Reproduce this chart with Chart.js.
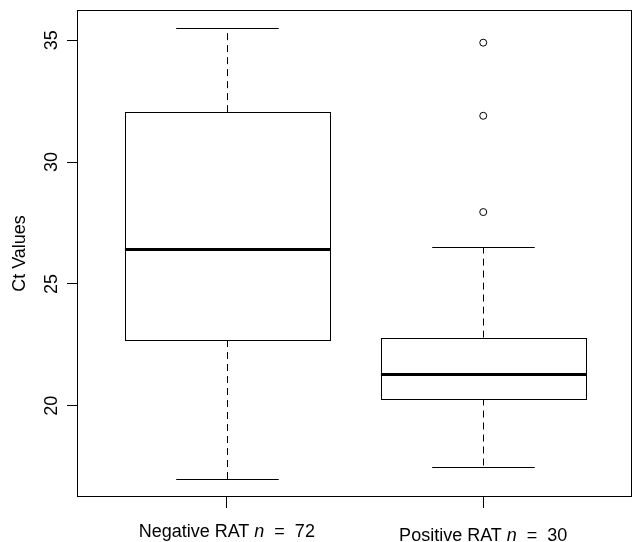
<!DOCTYPE html>
<html>
<head>
<meta charset="utf-8">
<script src="https://cdn.jsdelivr.net/npm/chart.js@4"></script>
<style>
  body { margin: 0; background: #fff; }
  #wrap { width: 632px; height: 542px; }
</style>
</head>
<body>
<div id="wrap"><canvas id="myChart" width="632" height="542"></canvas></div>
<script>
// box plot data
const categories = ['Negative RAT', 'Positive RAT'];
const counts = [72, 30];
const lowerWhisker = [17.0, 17.5];
const q1 = [22.7, 20.3];
const median = [26.45, 21.3];
const q3 = [32.05, 22.8];
const upperWhisker = [35.5, 26.5];
const outliers = [[], [27.95, 31.9, 34.9]];
const yTicks = [20, 25, 30, 35];

const FONT = '"Liberation Sans", Arial, sans-serif';

// outlier points for the scatter dataset
const outlierPoints = [];
outliers.forEach(function (list, i) {
  list.forEach(function (v) { outlierPoints.push({ x: i + 1, y: v }); });
});

const boxPlot = {
  id: 'boxPlot',
  beforeDatasetsDraw(chart) {
    const ctx = chart.ctx;
    const xs = chart.scales.x;
    const ys = chart.scales.y;
    const halfBox = (xs.getPixelForValue(1.4) - xs.getPixelForValue(1)); // box width 0.8
    const halfCap = halfBox / 2;
    ctx.save();
    ctx.strokeStyle = '#000';
    categories.forEach(function (c, i) {
      const cx = Math.round(xs.getPixelForValue(i + 1)) + 0.5;
      const yLo = ys.getPixelForValue(lowerWhisker[i]);
      const yQ1 = ys.getPixelForValue(q1[i]);
      const yMed = ys.getPixelForValue(median[i]);
      const yQ3 = ys.getPixelForValue(q3[i]);
      const yHi = ys.getPixelForValue(upperWhisker[i]);

      // whiskers (dashed)
      ctx.lineWidth = 1;
      ctx.setLineDash([7, 5]);
      ctx.beginPath();
      ctx.moveTo(cx, yQ3); ctx.lineTo(cx, yHi);
      ctx.moveTo(cx, yQ1); ctx.lineTo(cx, yLo);
      ctx.stroke();
      ctx.setLineDash([]);

      // caps
      ctx.beginPath();
      ctx.moveTo(cx - halfCap, Math.round(yHi) + 0.5); ctx.lineTo(cx + halfCap, Math.round(yHi) + 0.5);
      ctx.moveTo(cx - halfCap, Math.round(yLo) + 0.5); ctx.lineTo(cx + halfCap, Math.round(yLo) + 0.5);
      ctx.stroke();

      // box
      const top = Math.round(yQ3) + 0.5;
      const bot = Math.round(yQ1) + 0.5;
      ctx.fillStyle = '#fff';
      ctx.fillRect(cx - halfBox, top, halfBox * 2, bot - top);
      ctx.strokeRect(Math.round(cx - halfBox) + 0.5, top, Math.round(halfBox * 2), bot - top);

      // median
      ctx.lineWidth = 3;
      ctx.beginPath();
      ctx.moveTo(cx - halfBox, Math.round(yMed) + 0.5);
      ctx.lineTo(cx + halfBox, Math.round(yMed) + 0.5);
      ctx.stroke();
    });
    ctx.restore();
  },
  afterDraw(chart) {
    const ctx = chart.ctx;
    const a = chart.chartArea;
    const xs = chart.scales.x;
    ctx.save();
    // frame round the plot
    ctx.strokeStyle = '#000';
    ctx.lineWidth = 1;
    ctx.strokeRect(a.left - 0.5, a.top + 0.5, a.right - a.left, a.bottom - a.top - 1);

    // category labels with italic n
    ctx.fillStyle = '#000';
    ctx.textBaseline = 'alphabetic';
    categories.forEach(function (c, i) {
      const parts = [
        { t: c + ' ', f: '18px ' + FONT },
        { t: 'n', f: 'italic 18px ' + FONT },
        { t: '  =  ' + counts[i], f: '18px ' + FONT }
      ];
      let w = 0, desc = 0;
      parts.forEach(function (p) {
        ctx.font = p.f;
        const m = ctx.measureText(p.t);
        p.w = m.width;
        w += m.width;
        desc = Math.max(desc, m.actualBoundingBoxDescent);
      });
      let x = xs.getPixelForValue(i + 1) - w / 2;
      const base = 540.5 - desc;
      ctx.textAlign = 'left';
      parts.forEach(function (p) {
        ctx.font = p.f;
        ctx.fillText(p.t, x, base);
        x += p.w;
      });
    });
    ctx.restore();
  }
};

function noPad(scale) {
  scale.paddingTop = 0;
  scale.paddingBottom = 0;
  scale.paddingLeft = 0;
  scale.paddingRight = 0;
}

const ctx = document.getElementById('myChart').getContext('2d');
const myChart = new Chart(ctx, {
  type: 'scatter',
  data: {
    datasets: [{
      data: outlierPoints,
      pointRadius: 3.5,
      pointBorderWidth: 1,
      pointBorderColor: '#000',
      pointBackgroundColor: 'rgba(0,0,0,0)'
    }]
  },
  options: {
    responsive: false,
    animation: false,
    layout: { autoPadding: false, padding: { top: 10, right: 0, left: 0, bottom: 0 } },
    plugins: { legend: { display: false }, tooltip: { enabled: false } },
    scales: {
      x: {
        type: 'linear',
        min: 0.42,
        max: 2.58,
        afterBuildTicks: function (scale) {
          scale.ticks = categories.map(function (c, i) { return { value: i + 1 }; });
        },
        afterFit: function (scale) { scale.height = 45; noPad(scale); },
        ticks: { display: false },
        grid: { drawOnChartArea: false, drawTicks: true, tickLength: 11, color: '#000', lineWidth: 1 },
        border: { display: false }
      },
      y: {
        min: 16.26,
        max: 36.24,
        afterBuildTicks: function (scale) {
          scale.ticks = yTicks.map(function (v) { return { value: v }; });
        },
        afterFit: function (scale) { scale.width = 78; noPad(scale); },
        ticks: {
          minRotation: 90,
          maxRotation: 90,
          crossAlign: 'center',
          padding: 5,
          color: '#000',
          font: { family: FONT, size: 18 }
        },
        grid: { drawOnChartArea: false, drawTicks: true, tickLength: 11, color: '#000', lineWidth: 1 },
        border: { display: false },
        title: {
          display: true,
          text: 'Ct Values',
          color: '#000',
          padding: { top: 9, bottom: 0 },
          font: { family: FONT, size: 18 }
        }
      }
    }
  },
  plugins: [boxPlot]
});
</script>
</body>
</html>
